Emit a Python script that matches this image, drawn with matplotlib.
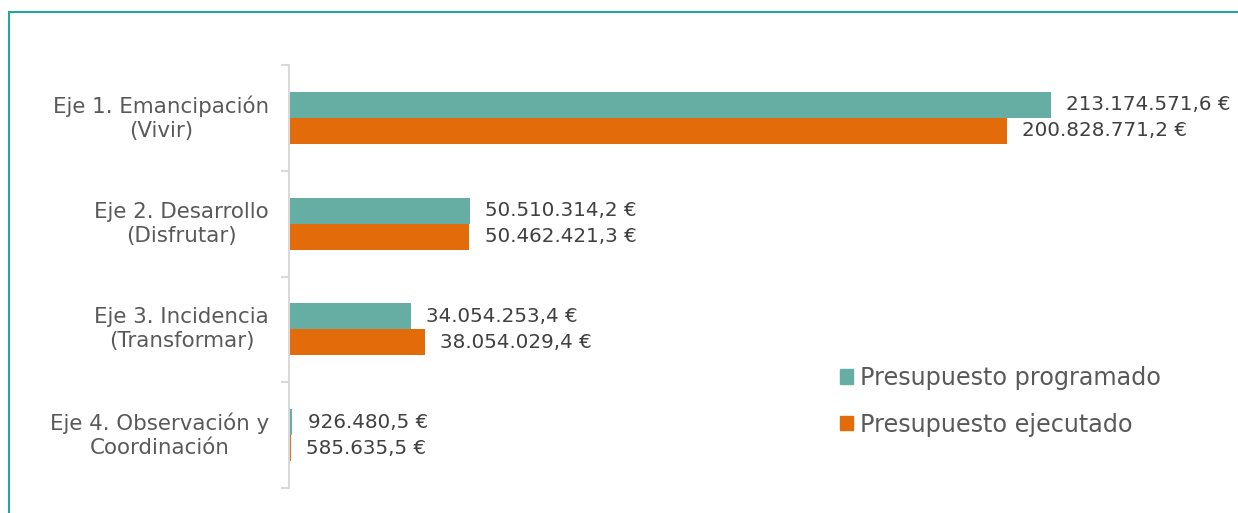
import matplotlib
matplotlib.use("Agg")
import matplotlib.pyplot as plt
from matplotlib.patches import Patch
from matplotlib.lines import Line2D

categories = ["Eje 1. Emancipación\n(Vivir)", "Eje 2. Desarrollo\n(Disfrutar)",
              "Eje 3. Incidencia\n(Transformar)", "Eje 4. Observación y\nCoordinación"]
programado = [213174571.6, 50510314.2, 34054253.4, 926480.5]
ejecutado = [200828771.2, 50462421.3, 38054029.4, 585635.5]
series_names = ["Presupuesto programado", "Presupuesto ejecutado"]
colors = ["#66AEA4", "#E36C0A"]

def fmt(v):
    s = f"{v:,.1f}"
    s = s.replace(",", "X").replace(".", ",").replace("X", ".")
    return s + " €"

W, H = 1238, 513
fig = plt.figure(figsize=(W / 100, H / 100), dpi=100)
ax = fig.add_axes([289 / W, 1 - 488 / H, (1230 - 289) / W, (488 - 65) / H])

bh = 0.246
ys = list(range(len(categories)))
ax.barh([y - bh / 2 for y in ys], programado, height=bh, color=colors[0])
ax.barh([y + bh / 2 for y in ys], ejecutado, height=bh, color=colors[1])

for y, v in zip(ys, programado):
    ax.annotate(fmt(v), (v, y - bh / 2), xytext=(11, 0), textcoords="offset points",
                va="center", ha="left", fontsize=14.3, color="#404040")
for y, v in zip(ys, ejecutado):
    ax.annotate(fmt(v), (v, y + bh / 2), xytext=(11, 0), textcoords="offset points",
                va="center", ha="left", fontsize=14.3, color="#404040")

scale = (1051 - 289) / programado[0]
ax.set_xlim(0, (1230 - 289) / scale)
ax.set_ylim(3.5, -0.5)
ax.set_yticks(ys)
ax.set_yticklabels(categories, fontsize=15.4, color="#595959", linespacing=1.25)
for lab in ax.get_yticklabels():
    lab.set_multialignment("center")
    lab.set_va("center")
ax.tick_params(axis="y", which="major", length=0, pad=14.4)
ax.set_yticks([-0.5, 0.5, 1.5, 2.5, 3.5], minor=True)
ax.tick_params(axis="y", which="minor", length=6, color="#D9D9D9", width=1.5)
ax.set_xticks([])
for s in ["top", "right", "bottom"]:
    ax.spines[s].set_visible(False)
ax.spines["left"].set_color("#D9D9D9")
ax.spines["left"].set_linewidth(1.5)

handles = [Patch(color=c) for c in colors]
fig.legend(handles, series_names, loc="upper left", bbox_to_anchor=(840 / W, 1 - 366 / H),
           frameon=False, fontsize=17.2, labelcolor="#595959", handlelength=0.55,
           handleheight=0.55, handletextpad=0.3, labelspacing=0.95, borderaxespad=0, borderpad=0)

border = "#26A69A"
fig.add_artist(Line2D([9 / W, 1], [1 - 12 / H, 1 - 12 / H], transform=fig.transFigure, color=border, lw=1.5))
fig.add_artist(Line2D([9 / W, 9 / W], [0, 1 - 12 / H], transform=fig.transFigure, color=border, lw=1.5))

fig.savefig("out.png", dpi=100)
